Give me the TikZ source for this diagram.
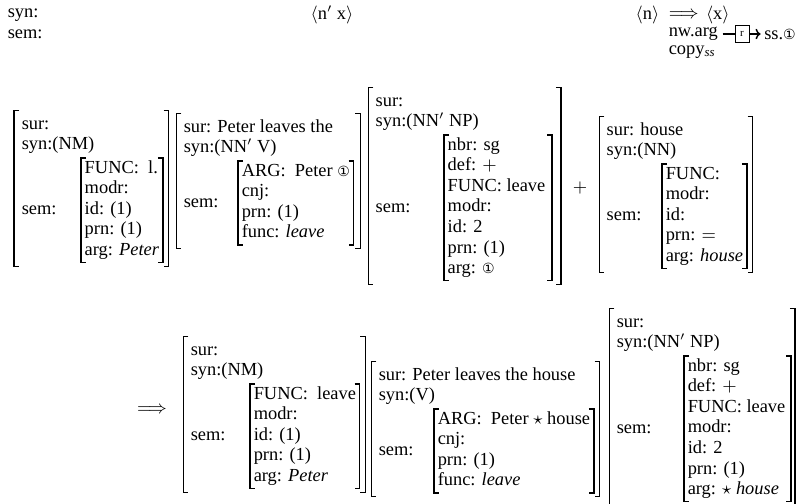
\documentclass[tikz,border=0pt]{standalone}
\usepackage{fontspec}
\setmainfont{Liberation Serif}
\newfontfamily\circfont{DejaVu Sans}
\usetikzlibrary{positioning, fit, arrows.meta}

\newcommand{\circone}{{\circfont\fontsize{7pt}{8pt}\selectfont ①}}
% brackets round a node: name, left gap, right gap
\newcommand{\avmbrackets}[3]{%
  \draw ([xshift=-#2]#1.north west) ++(2.5pt,0) -| ([xshift=-#2]#1.south west) -- ++(2.5pt,0);
  \draw ([xshift=#3]#1.north east) ++(-2.5pt,0) -| ([xshift=#3]#1.south east) -- ++(-2.5pt,0);
}

\begin{document}
\begin{tikzpicture}[
    x=0.5pt, y=-0.5pt,
    line width=0.75pt,
    font=\fontsize{9.2pt}{10.3pt}\selectfont,
    rows/.style={inner sep=0pt, anchor=north west},
    lbl/.style={inner sep=0pt, anchor=west},
    avm/.style={inner xsep=0pt, inner ysep=1.5pt},
    rbox/.style={draw, line width=0.5pt, minimum width=7pt, minimum height=8.5pt, inner sep=0pt, font=\fontsize{5.5pt}{6pt}\selectfont}
]
    \useasboundingbox (0,0) rectangle (811,504);

    % ================= RULE HEADER =================
    \node[lbl] (SYN) at (7,15) {syn:};
    \node[lbl] (SEM) at (7,34) {sem:};
    \node (NX) at (332,15) {$\langle$n$'$ x$\rangle$};
    \node[lbl, anchor=east] (N) at (660,15) {$\langle$n$\rangle$};
    \node[lbl] (IMPL) at (668,15) {$\Longrightarrow$};
    \node[lbl, right=3pt of IMPL] (X) {$\langle$x$\rangle$};
    \node[lbl] (NWARG) at (668,34) {nw.arg};
    \node[rbox, right=8pt of NWARG] (RFUN) {r};
    \node[lbl, right=7pt of RFUN] (SSONE) {ss.\circone};
    \node[lbl] (COPY) at (668,52) {copy\textsubscript{\itshape ss}};

    \draw ([xshift=2pt]NWARG.east) -- (RFUN);
    \draw[-{To[length=2.5pt]}] (RFUN) -- ([xshift=-1.5pt]SSONE.west);

    % ================= FIRST ROW =================
    % Peter
    \node[rows] (PETER-sur) at (21,114) {\begin{tabular}{@{}l@{}}sur:\\ syn:(NM)\end{tabular}};
    \node[rows] (PETER-in) at (84,158) {\begin{tabular}{@{}l@{}}FUNC:\ \ l.\\ modr:\\ id: (1)\\ prn: (1)\\ arg: \textit{Peter}\end{tabular}};
    \node[lbl] (PETER-sem) at (PETER-sur.west |- PETER-in.west) {sem:};
    \node[avm, fit=(PETER-sur)(PETER-sem)(PETER-in)] (PETER) {};
    \avmbrackets{PETER-in}{1.5pt}{1.5pt}
    \avmbrackets{PETER}{3pt}{4pt}

    % Peter leaves the
    \node[rows] (LEAVES-sur) at (183,117) {\begin{tabular}{@{}l@{}}sur: Peter leaves the\\ syn:(NN$'$ V)\end{tabular}};
    \node[rows] (LEAVES-in) at (241,161) {\begin{tabular}{@{}l@{}}ARG:\ \ Peter \circone\\ cnj:\\ prn: (1)\\ func: \textit{leave}\end{tabular}};
    \node[lbl] (LEAVES-sem) at (LEAVES-sur.west |- LEAVES-in.west) {sem:};
    \node[avm, fit=(LEAVES-sur)(LEAVES-sem)(LEAVES-in)] (LEAVES) {};
    \avmbrackets{LEAVES-in}{1.5pt}{1.5pt}
    \avmbrackets{LEAVES}{3pt}{4.5pt}

    % the
    \node[rows] (THE-sur) at (375,91) {\begin{tabular}{@{}l@{}}sur:\\ syn:(NN$'$ NP)\end{tabular}};
    \node[rows] (THE-in) at (447,135) {\begin{tabular}{@{}l@{}}nbr: sg\\ def: $+$\\ FUNC: leave\\ modr:\\ id: 2\\ prn: (1)\\ arg: \circone\end{tabular}};
    \node[lbl] (THE-sem) at (THE-sur.west |- THE-in.west) {sem:};
    \node[avm, fit=(THE-sur)(THE-sem)(THE-in)] (THE) {};
    \avmbrackets{THE-in}{1.5pt}{3pt}
    \avmbrackets{THE}{3pt}{7pt}

    \node (PLUS) at (580,188) {$+$};

    % house
    \node[rows] (HOUSE-sur) at (606,120) {\begin{tabular}{@{}l@{}}sur: house\\ syn:(NN)\end{tabular}};
    \node[rows] (HOUSE-in) at (665,164) {\begin{tabular}{@{}l@{}}FUNC:\\ modr:\\ id:\\ prn: $=$\\ arg: \textit{house}\end{tabular}};
    \node[lbl] (HOUSE-sem) at (HOUSE-sur.west |- HOUSE-in.west) {sem:};
    \node[avm, fit=(HOUSE-sur)(HOUSE-sem)(HOUSE-in)] (HOUSE) {};
    \avmbrackets{HOUSE-in}{1.5pt}{1.5pt}
    \avmbrackets{HOUSE}{3pt}{4pt}

    % ================= RESULT ROW =================
    \node (IMPL2) at (152,410) {$\Longrightarrow$};

    % Peter
    \node[rows] (PETER2-sur) at (190,340) {\begin{tabular}{@{}l@{}}sur:\\ syn:(NM)\end{tabular}};
    \node[rows] (PETER2-in) at (253,384) {\begin{tabular}{@{}l@{}}FUNC:\ \ leave\\ modr:\\ id: (1)\\ prn: (1)\\ arg: \textit{Peter}\end{tabular}};
    \node[lbl] (PETER2-sem) at (PETER2-sur.west |- PETER2-in.west) {sem:};
    \node[avm, fit=(PETER2-sur)(PETER2-sem)(PETER2-in)] (PETER2) {};
    \avmbrackets{PETER2-in}{1.5pt}{1.5pt}
    \avmbrackets{PETER2}{3pt}{4pt}

    % Peter leaves the house
    \node[rows] (LEAVES2-sur) at (378,365) {\begin{tabular}{@{}l@{}}sur: Peter leaves the house\\ syn:(V)\end{tabular}};
    \node[rows] (LEAVES2-in) at (437,409) {\begin{tabular}{@{}l@{}}ARG:\ \ Peter $\star$ house\\ cnj:\\ prn: (1)\\ func: \textit{leave}\end{tabular}};
    \node[lbl] (LEAVES2-sem) at (LEAVES2-sur.west |- LEAVES2-in.west) {sem:};
    \node[avm, fit=(LEAVES2-sur)(LEAVES2-sem)(LEAVES2-in)] (LEAVES2) {};
    \avmbrackets{LEAVES2-in}{1.5pt}{1.5pt}
    \avmbrackets{LEAVES2}{3pt}{4pt}

    % the house
    \node[rows] (THE2-sur) at (616,312) {\begin{tabular}{@{}l@{}}sur:\\ syn:(NN$'$ NP)\end{tabular}};
    \node[rows] (THE2-in) at (687,356) {\begin{tabular}{@{}l@{}}nbr: sg\\ def: $+$\\ FUNC: leave\\ modr:\\ id: 2\\ prn: (1)\\ arg: $\star$ \textit{house}\end{tabular}};
    \node[lbl] (THE2-sem) at (THE2-sur.west |- THE2-in.west) {sem:};
    \node[avm, fit=(THE2-sur)(THE2-sem)(THE2-in)] (THE2) {};
    \avmbrackets{THE2-in}{1.5pt}{2.5pt}
    \avmbrackets{THE2}{3pt}{4pt}

\end{tikzpicture}
\end{document}
